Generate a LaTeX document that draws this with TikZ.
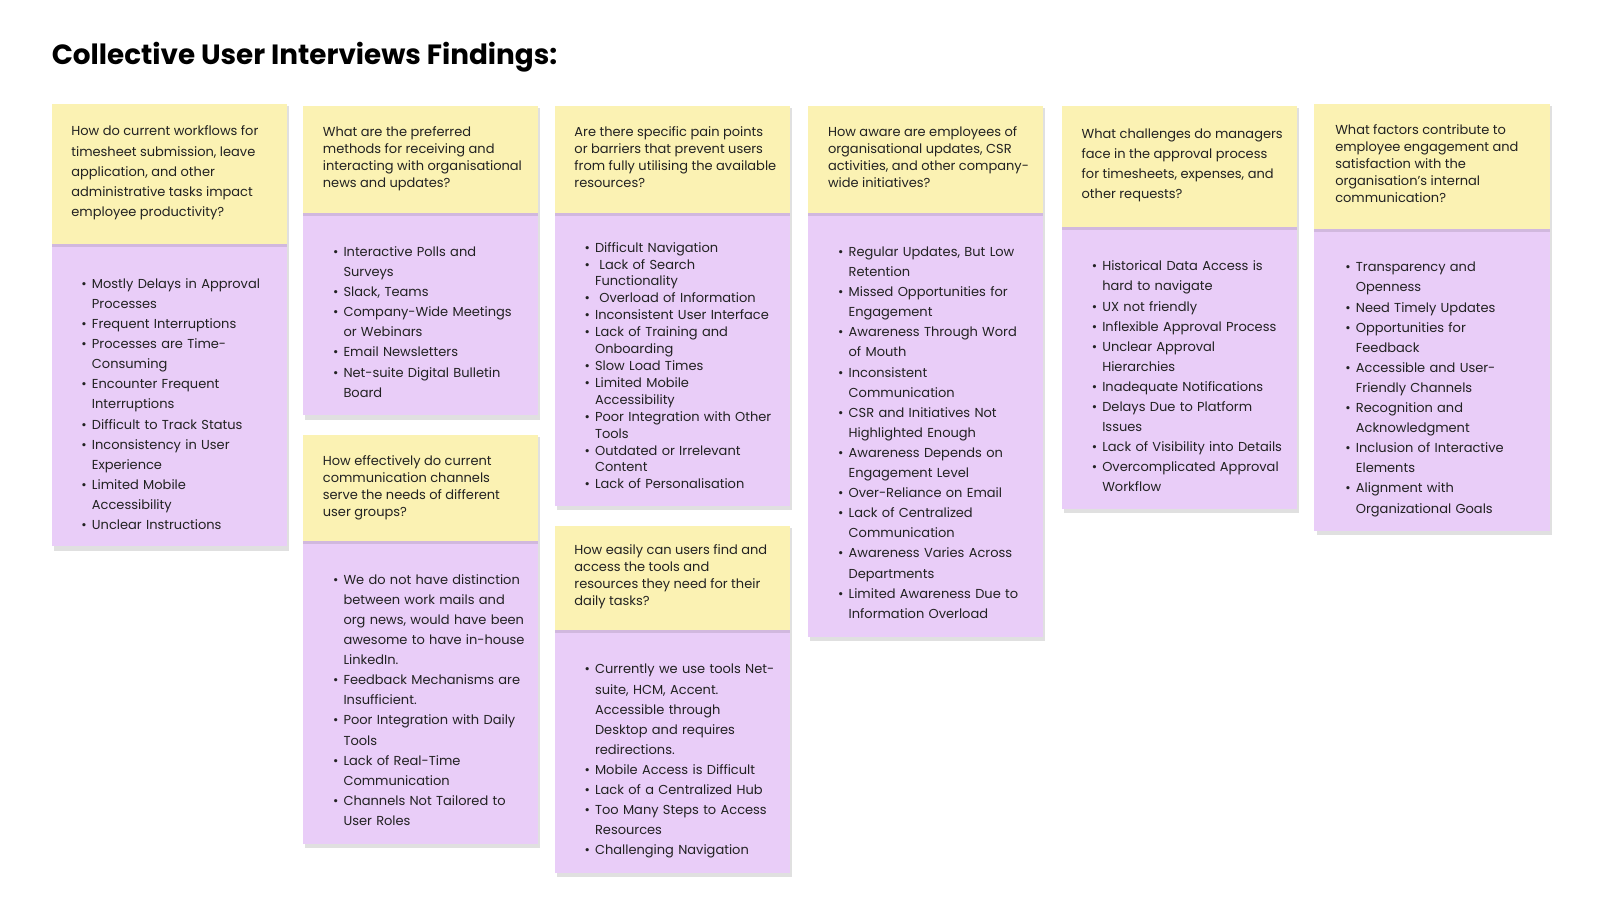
\documentclass[tikz,border=0pt]{standalone}
\usepackage{fontspec}
\setmainfont{Poppins}
\usepackage{enumitem}
\definecolor{yel}{HTML}{FBF2B3}
\definecolor{pur}{HTML}{E9CDF8}
\definecolor{txt}{HTML}{222222}
\setlist[itemize]{leftmargin=11pt,labelsep=5pt,itemsep=0pt,topsep=0pt,parsep=0pt,partopsep=0pt,label=\textbullet}
\newcommand\cardbg[4]{% x, ytop, ysplit, ybottom
  \fill[black,opacity=0.12] (#1+2,-#2-2) rectangle (#1+230,-#4-4);
  \fill[pur] (#1,-#3) rectangle (#1+228,-#4);
  \fill[black,opacity=0.10] (#1,-#3) rectangle (#1+228,-#3-3);
  \fill[yel] (#1,-#2) rectangle (#1+228,-#3);
}
\tikzset{
  q/.style={anchor=north west,inner sep=0pt,align=left,text=txt,font=\fontsize{12.6}{#1}\selectfont},
  li/.style={anchor=north west,inner sep=0pt,text width=215pt,text=txt,font=\fontsize{12.6}{#1}\selectfont},
}
\begin{document}
\begin{tikzpicture}[x=1pt,y=1pt]
\useasboundingbox (0,0) rectangle (1552,-873);
\fill[white] (0,0) rectangle (1552,-873);
\node[anchor=west,inner sep=0pt,font=\fontsize{27}{30}\selectfont\bfseries,text=black] (title) at (50,-55) {Collective User Interviews Findings:};

% col1
\cardbg{50}{101}{237}{530}
\node[q=19.5] (q1) at (69,-122) {How do current workflows for\\timesheet submission, leave\\application, and other\\administrative tasks impact\\employee productivity?};
\node[li=19.5] (l1) at (78,-260) {\begin{itemize}
\item Mostly Delays in Approval\\Processes
\item Frequent Interruptions
\item Processes are Time-\\Consuming
\item Encounter Frequent\\Interruptions
\item Difficult to Track Status
\item Inconsistency in User\\Experience
\item Limited Mobile\\Accessibility
\item Unclear Instructions
\end{itemize}};

% col2
\cardbg{294}{103}{207}{403}
\node[q=16.4] (q2) at (313,-123) {What are the preferred\\methods for receiving and\\interacting with organisational\\news and updates?};
\node[li=19.5] (l2) at (322,-229) {\begin{itemize}
\item Interactive Polls and\\Surveys
\item Slack, Teams
\item Company-Wide Meetings\\or Webinars
\item Email Newsletters
\item Net-suite Digital Bulletin\\Board
\end{itemize}};
\cardbg{294}{422}{525}{819}
\node[q=16.4] (q3) at (313,-442) {How effectively do current\\communication channels\\serve the needs of different\\user groups?};
\node[li=19.5] (l3) at (322,-547) {\begin{itemize}
\item We do not have distinction\\between work mails and\\org news, would have been\\awesome to have in-house\\LinkedIn.
\item Feedback Mechanisms are\\Insufficient.
\item Poor Integration with Daily\\Tools
\item Lack of Real-Time\\Communication
\item Channels Not Tailored to\\User Roles
\end{itemize}};

% col3
\cardbg{538}{103}{207}{491}
\node[q=16.4] (q4) at (557,-123) {Are there specific pain points\\or barriers that prevent users\\from fully utilising the available\\resources?};
\node[li=16.4] (l4) at (566,-228) {\begin{itemize}
\item Difficult Navigation
\item \ Lack of Search\\Functionality
\item \ Overload of Information
\item Inconsistent User Interface
\item Lack of Training and\\Onboarding
\item Slow Load Times
\item Limited Mobile\\Accessibility
\item Poor Integration with Other\\Tools
\item Outdated or Irrelevant\\Content
\item Lack of Personalisation
\end{itemize}};
\cardbg{538}{510}{611}{847}
\node[q=16.4] (q5) at (557,-528) {How easily can users find and\\access the tools and\\resources they need for their\\daily tasks?};
\node[li=19.5] (l5) at (566,-634) {\begin{itemize}
\item Currently we use tools Net-\\suite, HCM, Accent.\\Accessible through\\Desktop and requires\\redirections.
\item Mobile Access is Difficult
\item Lack of a Centralized Hub
\item Too Many Steps to Access\\Resources
\item Challenging Navigation
\end{itemize}};

% col4
\cardbg{784}{103}{207}{618}
\node[q=16.4] (q6) at (803,-123) {How aware are employees of\\organisational updates, CSR\\activities, and other company-\\wide initiatives?};
\node[li=19.5] (l6) at (812,-229) {\begin{itemize}
\item Regular Updates, But Low\\Retention
\item Missed Opportunities for\\Engagement
\item Awareness Through Word\\of Mouth
\item Inconsistent\\Communication
\item CSR and Initiatives Not\\Highlighted Enough
\item Awareness Depends on\\Engagement Level
\item Over-Reliance on Email
\item Lack of Centralized\\Communication
\item Awareness Varies Across\\Departments
\item Limited Awareness Due to\\Information Overload
\end{itemize}};

% col5
\cardbg{1030}{103}{220}{494}
\node[q=19.5] (q7) at (1049,-125) {What challenges do managers\\face in the approval process\\for timesheets, expenses, and\\other requests?};
\node[li=19.5] (l7) at (1058,-243) {\begin{itemize}
\item Historical Data Access is\\hard to navigate
\item UX not friendly
\item Inflexible Approval Process
\item Unclear Approval\\Hierarchies
\item Inadequate Notifications
\item Delays Due to Platform\\Issues
\item Lack of Visibility into Details
\item Overcomplicated Approval\\Workflow
\end{itemize}};

% col6
\cardbg{1275}{101}{222}{515}
\node[q=16.4] (q8) at (1295,-121) {What factors contribute to\\employee engagement and\\satisfaction with the\\organisation's internal\\communication?};
\node[li=19.5] (l8) at (1304,-244) {\begin{itemize}
\item Transparency and\\Openness
\item Need Timely Updates
\item Opportunities for\\Feedback
\item Accessible and User-\\Friendly Channels
\item Recognition and\\Acknowledgment
\item Inclusion of Interactive\\Elements
\item Alignment with\\Organizational Goals
\end{itemize}};
\end{tikzpicture}
\end{document}
